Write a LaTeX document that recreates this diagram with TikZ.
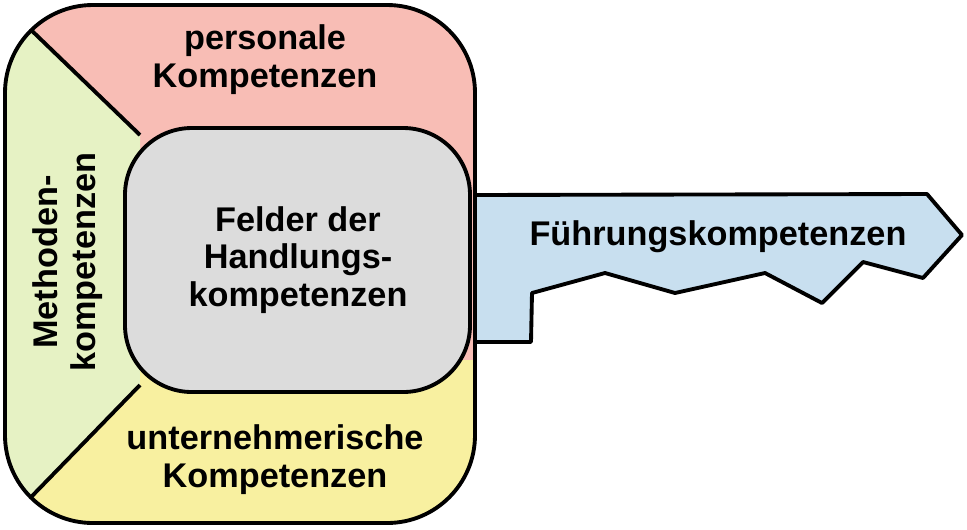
\documentclass[tikz,border=0pt]{standalone}
\usepackage{fontspec}
\setmainfont{Liberation Sans}
\begin{document}
\begin{tikzpicture}[x=0.02cm,y=-0.02cm,line width=2.2pt,line join=round,
lab/.style={font=\bfseries\fontsize{19.5}{21.5}\selectfont,align=center,inner sep=0pt}]
\useasboundingbox (0,0) rectangle (967,529);
\definecolor{pinkbg}{HTML}{F8BDB5}
\definecolor{greenbg}{HTML}{E6F2C4}
\definecolor{yellowbg}{HTML}{F8F0A0}
\definecolor{graybg}{HTML}{DCDCDC}
\definecolor{bluebg}{HTML}{C8DFEF}
% key bit
\draw[fill=bluebg] (472,195) -- (927,194) -- (962,235) -- (923,278) -- (863,262) -- (822,303) -- (765,273) -- (675,293) -- (605,273) -- (532,293) -- (531,342) -- (472,342);
% key head
\begin{scope}
\clip[rounded corners=50] (5,5) rectangle (475,523);
\fill[pinkbg] (0,0) rectangle (480,529);
\fill[greenbg] (0,0) -- (140,135) -- (140,385) -- (0,529) -- cycle;
\fill[yellowbg] (0,529) -- (140,385) -- (140,360) -- (480,360) -- (480,529) -- cycle;
\draw (0,0) -- (140,135);
\draw (0,529) -- (140,385);
\end{scope}
\draw[rounded corners=50] (5,5) rectangle (475,523);
\draw[fill=graybg,rounded corners=38] (125,128) rectangle (470,392);
\node[lab] (pers) at (265,60) {personale\\Kompetenzen};
\node[lab] (feld) at (298,260) {Felder der\\Handlungs-\\kompetenzen};
\node[lab,rotate=90] (meth) at (68,262) {Methoden-\\kompetenzen};
\node[lab] (unt) at (275,460) {unternehmerische\\Kompetenzen};
\node[lab] (fuehr) at (718,237) {Führungskompetenzen};
\end{tikzpicture}
\end{document}
